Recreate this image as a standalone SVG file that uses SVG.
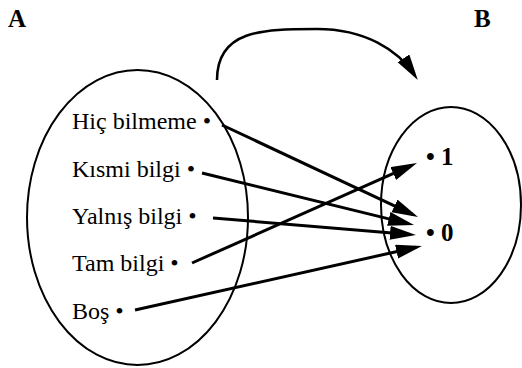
<svg xmlns="http://www.w3.org/2000/svg" width="522" height="368" viewBox="0 0 522 368">
<style>
.lbl{font-family:"Liberation Serif","Times New Roman",serif;font-size:24px;fill:#000}
.bold{font-family:"Liberation Serif","Times New Roman",serif;font-size:25px;font-weight:bold;fill:#000}
.set{fill:none;stroke:#000;stroke-width:2}
.arr{fill:none;stroke:#000;stroke-width:3;marker-end:url(#ah)}
</style>
<defs>
<marker id="ah" markerUnits="userSpaceOnUse" markerWidth="28" markerHeight="16" refX="20" refY="7" orient="auto">
<path d="M0,0 L26,7 L0,14 z" fill="#000"/>
</marker>
</defs>
<rect width="522" height="368" fill="#fff"/>
<g id="setA">
<ellipse class="set" cx="137.5" cy="217.5" rx="110.5" ry="147.5"/>
<text class="bold" x="8" y="27">A</text>
</g>
<g id="setB">
<ellipse class="set" cx="451" cy="205" rx="70" ry="98"/>
<text class="bold" x="474" y="27">B</text>
</g>
<g id="a1"><text class="lbl" x="72" y="129">Hiç bilmeme •</text></g>
<g id="a2"><text class="lbl" x="72" y="177">Kısmi bilgi •</text></g>
<g id="a3"><text class="lbl" x="72" y="224">Yalnış bilgi •</text></g>
<g id="a4"><text class="lbl" x="72" y="271">Tam bilgi •</text></g>
<g id="a5"><text class="lbl" x="72" y="319">Boş •</text></g>
<g id="b1"><text class="bold" x="426" y="165">• 1</text></g>
<g id="b0"><text class="bold" x="426" y="241">• 0</text></g>
<g id="connectors">
<path class="arr" d="M222,125 L412.6,214.4"/>
<path class="arr" d="M202,173 L408.2,223.6"/>
<path class="arr" d="M213,218 L410,234.5"/>
<path class="arr" d="M192,263 L411.5,165.4"/>
<path class="arr" d="M135,310 L416.1,247.3"/>
<path class="arr" style="stroke-width:2.5" d="M217,80 C217,30 262,29 317,29 C365,29 398,50 414.5,75"/>
</g>
</svg>
